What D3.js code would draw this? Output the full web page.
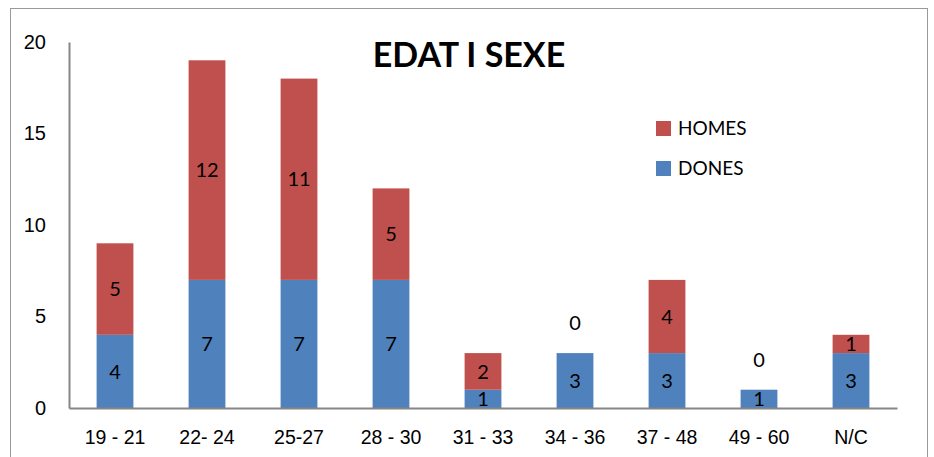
<!DOCTYPE html>
<html>
<head>
<meta charset="utf-8">
<script src="https://cdn.jsdelivr.net/npm/d3@7"></script>
<style>
  body { margin: 0; background: #fff; }
  svg { display: block; font-family: Lato, "Open Sans", sans-serif; }
</style>
</head>
<body>
<svg id="chart"></svg>
<script>
// age groups and counts per sex
var categories = ["19 - 21", "22- 24", "25-27", "28 - 30", "31 - 33", "34 - 36", "37 - 48", "49 - 60", "N/C"];
var dones = [4, 7, 7, 7, 1, 3, 3, 1, 3];
var homes = [5, 12, 11, 5, 2, 0, 4, 0, 1];
var yTicks = [0, 5, 10, 15, 20];

const width = 934;
const height = 457;
const colors = {dones: "#4F81BD", homes: "#C0504D"};

var svg = d3.select("#chart")
  .attr("width", width)
  .attr("height", height);

// outer frame
svg.append("rect")
  .attr("x", 10.5).attr("y", 8.5)
  .attr("width", 917).attr("height", 460)
  .attr("fill", "none")
  .attr("stroke", "#9a9a9a")
  .attr("stroke-width", 1);

var x = d3.scaleBand()
  .domain(categories)
  .range([69, 897])
  .paddingInner(0.6)
  .paddingOuter(0.3);

var y = d3.scaleLinear()
  .domain([0, 20])
  .range([408, 42]);

var rows = categories.map((c, i) => ({cat: c, dones: dones[i], homes: homes[i]}));
var stack = d3.stack().keys(["dones", "homes"])(rows);

var layer = svg.selectAll("g.layer")
  .data(stack)
  .enter().append("g")
    .attr("class", "layer")
    .attr("fill", d => colors[d.key]);

layer.selectAll("rect")
  .data(d => d)
  .enter().append("rect")
    .attr("x", d => x(d.data.cat))
    .attr("width", x.bandwidth())
    .attr("y", d => y(d[1]))
    .attr("height", d => y(d[0]) - y(d[1]));

// value labels; zero segments sit a bit above the bar
layer.selectAll("text")
  .data(d => d.map(s => ({s: s, v: s[1] - s[0]})))
  .enter().append("text")
    .attr("x", d => x(d.s.data.cat) + x.bandwidth() / 2)
    .attr("y", d => d.v === 0 ? y(d.s[1]) - 30 : (y(d.s[0]) + y(d.s[1])) / 2)
    .attr("dy", "0.36em")
    .attr("text-anchor", "middle")
    .attr("fill", "#000")
    .attr("font-size", 20)
    .text(d => d.v);

// axes
var yAxis = d3.axisLeft(y).tickValues(yTicks).tickSize(0).tickPadding(23);
var gy = svg.append("g")
  .attr("transform", "translate(69,0)")
  .call(yAxis);
gy.select(".domain").attr("stroke", "#868686").attr("stroke-width", 2);
gy.selectAll("text").attr("font-size", 20).attr("fill", "#000").attr("font-family", null);

var xAxis = d3.axisBottom(x).tickSize(0).tickPadding(22);
var gx = svg.append("g")
  .attr("transform", "translate(0,408)")
  .call(xAxis);
gx.select(".domain").attr("stroke", "#868686").attr("stroke-width", 2);
gx.selectAll("text").attr("font-size", 19.5).attr("fill", "#000").attr("font-family", null);

// title
svg.append("text")
  .attr("x", 469).attr("y", 67)
  .attr("text-anchor", "middle")
  .attr("font-size", 34)
  .attr("font-weight", "bold")
  .text("EDAT I SEXE");

// legend
var legendKeys = ["homes", "dones"];
var legendNames = {homes: "HOMES", dones: "DONES"};
var legend = svg.selectAll("g.legend")
  .data(legendKeys)
  .enter().append("g")
    .attr("class", "legend")
    .attr("transform", (d, i) => `translate(656,${121 + i * 40})`);
legend.append("rect")
  .attr("width", 15).attr("height", 15)
  .attr("fill", d => colors[d]);
legend.append("text")
  .attr("x", 22).attr("y", 7.5)
  .attr("dy", "0.36em")
  .attr("font-size", 19)
  .text(d => legendNames[d]);
</script>
</body>
</html>
